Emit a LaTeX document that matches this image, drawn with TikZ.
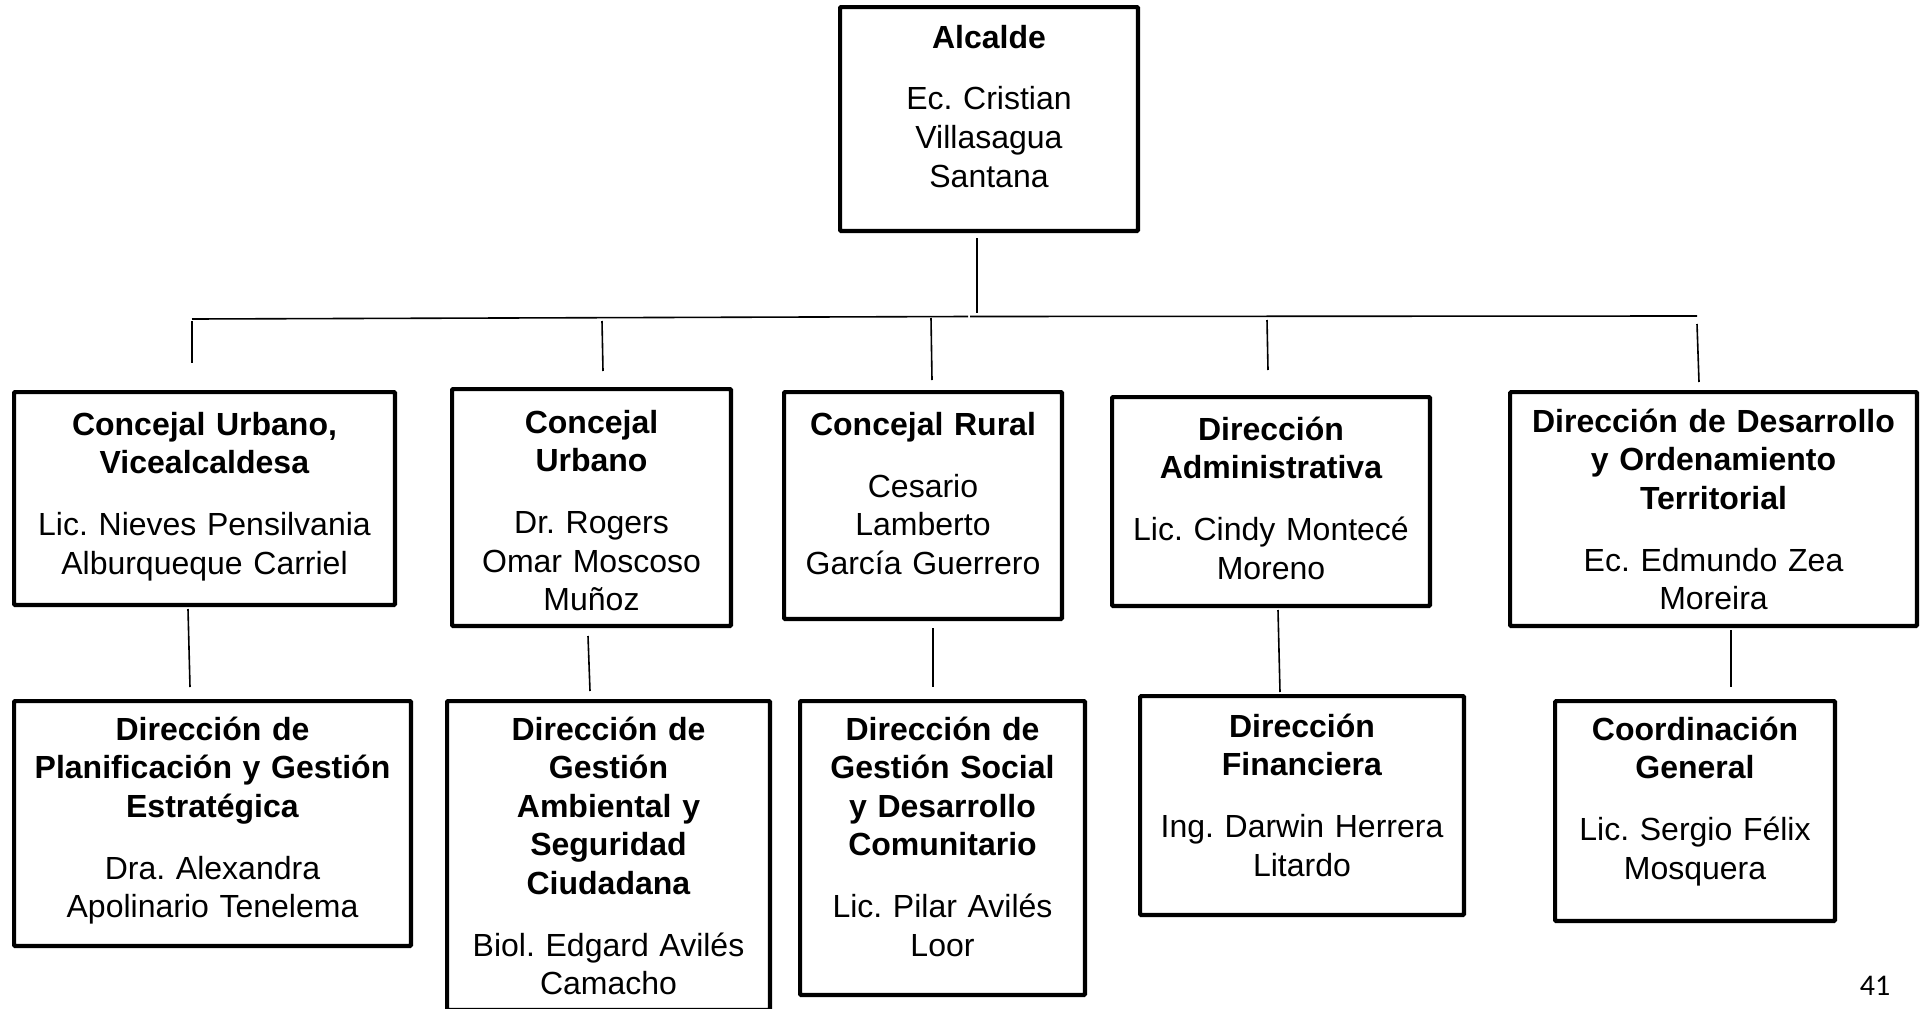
\documentclass[tikz,border=0pt]{standalone}
\usepackage{fontspec}
\setmainfont{Liberation Sans}
\newfontfamily\pagefont{Carlito}
\frenchspacing
\newcommand\orgmkbox[5]{%
  \pgfmathsetmacro\orgbw{#4-#2-4.2}%
  \pgfmathsetmacro\orgbh{#5-#3-4.2}%
  \node[orgbox, minimum width=\orgbw pt, minimum height=\orgbh pt] (#1) at ({(#2+#4)/2},{(#3+#5)/2}) {};}
\begin{document}
\begin{tikzpicture}[x=1pt,y=-1pt,
  orgbox/.style={draw=black, line width=4.2pt, fill=white, inner sep=0pt, rounded corners=1pt},
  orgtxt/.style={text width=#1, align=center, anchor=base, inner sep=0pt, font=\frenchspacing\fontsize{32}{38.5}\selectfont},
  link/.style={line width=1.6pt, draw=black}]
\useasboundingbox (0,0) rectangle (1922,1009);

% boxes
\orgmkbox{A}{838}{5}{1140}{233}
\orgmkbox{B1}{12}{390}{397}{607}
\orgmkbox{B2}{450}{387}{733}{628}
\orgmkbox{B3}{782}{390}{1064}{621}
\orgmkbox{B4}{1110}{395}{1432}{608}
\orgmkbox{B5}{1508}{390}{1919}{628}
\orgmkbox{C1}{12}{699}{413}{948}
\orgmkbox{C2}{445}{699}{772}{1012}
\orgmkbox{C3}{798}{699}{1087}{997}
\orgmkbox{C4}{1138}{694}{1466}{917}
\orgmkbox{C5}{1553}{699}{1837}{923}

% texts
\def\gap{\\[23.5pt]}
\node[orgtxt=290pt] (tA) at (989,48) {\textbf{Alcalde}\gap Ec. Cristian\\Villasagua\\Santana};
\node[orgtxt=375pt] (tB1) at (204.5,435) {\textbf{Concejal Urbano,}\\\textbf{Vicealcaldesa}\gap Lic. Nieves Pensilvania\\Alburqueque Carriel};
\node[orgtxt=270pt] (tB2) at (591.5,433) {\textbf{Concejal}\\\textbf{Urbano}\gap Dr. Rogers\\Omar Moscoso\\Muñoz};
\node[orgtxt=270pt] (tB3) at (923,435) {\textbf{Concejal Rural}\gap Cesario\\Lamberto\\García Guerrero};
\node[orgtxt=310pt] (tB4) at (1271,440) {\textbf{Dirección}\\\textbf{Administrativa}\gap Lic. Cindy Montecé\\Moreno};
\node[orgtxt=400pt] (tB5) at (1713.5,432) {\textbf{Dirección de Desarrollo}\\\textbf{y Ordenamiento}\\\textbf{Territorial}\gap Ec. Edmundo Zea\\Moreira};
\node[orgtxt=390pt] (tC1) at (212.5,740) {\textbf{Dirección de}\\\textbf{Planificación y Gestión}\\\textbf{Estratégica}\gap Dra. Alexandra\\Apolinario Tenelema};
\node[orgtxt=315pt] (tC2) at (608.5,740) {\textbf{Dirección de}\\\textbf{Gestión}\\\textbf{Ambiental y}\\\textbf{Seguridad}\\\textbf{Ciudadana}\gap Biol. Edgard Avilés\\Camacho};
\node[orgtxt=280pt] (tC3) at (942.5,740) {\textbf{Dirección de}\\\textbf{Gestión Social}\\\textbf{y Desarrollo}\\\textbf{Comunitario}\gap Lic. Pilar Avilés\\Loor};
\node[orgtxt=318pt] (tC4) at (1302,737) {\textbf{Dirección}\\\textbf{Financiera}\gap Ing. Darwin Herrera\\Litardo};
\node[orgtxt=275pt] (tC5) at (1695,740) {\textbf{Coordinación}\\\textbf{General}\gap Lic. Sergio Félix\\Mosquera};

\node[font=\pagefont\fontsize{30}{36}\selectfont, anchor=base, inner sep=0pt] (pg) at (1875,995) {41};

% connector coordinates
\coordinate (aS) at (977,238);
\coordinate (aE) at (977,313);
\coordinate (busL) at (192,319);
\coordinate (busM1) at (968,316.5);
\coordinate (busM2) at (970,316.5);
\coordinate (busR) at (1697,316);
\coordinate (d1a) at (192,321); \coordinate (d1b) at (192,363);
\coordinate (d2a) at (602,321); \coordinate (d2b) at (603,371);
\coordinate (d3a) at (931,318); \coordinate (d3b) at (932,380);
\coordinate (d4a) at (1267,320); \coordinate (d4b) at (1268,370);
\coordinate (d5a) at (1697,324); \coordinate (d5b) at (1699,382);
\coordinate (e1a) at (188,609); \coordinate (e1b) at (190,687);
\coordinate (e2a) at (588,636); \coordinate (e2b) at (590,691);
\coordinate (e3a) at (933,628); \coordinate (e3b) at (933,687);
\coordinate (e4a) at (1278,610); \coordinate (e4b) at (1280,692);
\coordinate (e5a) at (1731,630); \coordinate (e5b) at (1731,687);

\draw[link] (aS) -- (aE);
\draw[link] (busL) -- (busM1);
\draw[link] (busM2) -- (busR);
\draw[link] (d1a) -- (d1b);
\draw[link] (d2a) -- (d2b);
\draw[link] (d3a) -- (d3b);
\draw[link] (d4a) -- (d4b);
\draw[link] (d5a) -- (d5b);
\draw[link] (e1a) -- (e1b);
\draw[link] (e2a) -- (e2b);
\draw[link] (e3a) -- (e3b);
\draw[link] (e4a) -- (e4b);
\draw[link] (e5a) -- (e5b);
\end{tikzpicture}
\end{document}
